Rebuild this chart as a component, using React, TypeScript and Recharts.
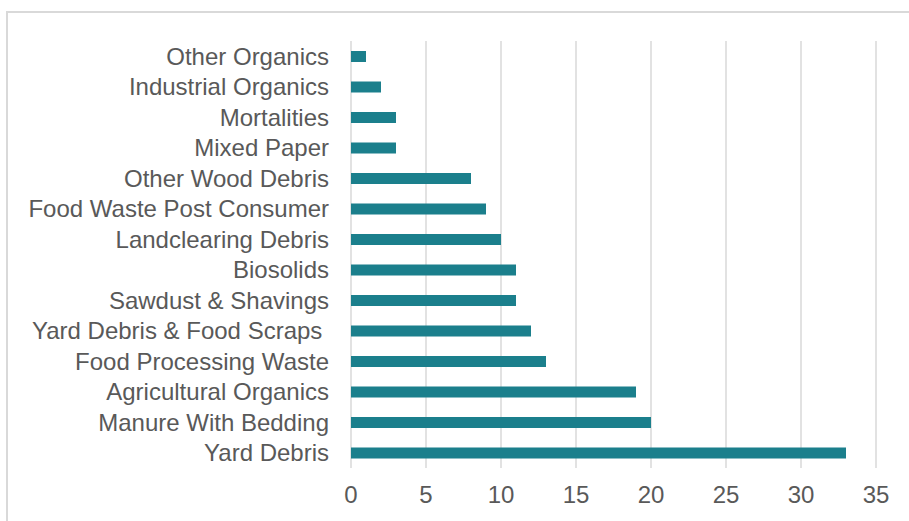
import React from 'react';
import { BarChart, Bar, XAxis, YAxis, CartesianGrid } from 'recharts';

// Categories listed top to bottom, as they appear in the chart
const categories = [
  'Other Organics',
  'Industrial Organics',
  'Mortalities',
  'Mixed Paper',
  'Other Wood Debris',
  'Food Waste Post Consumer',
  'Landclearing Debris',
  'Biosolids',
  'Sawdust & Shavings',
  'Yard Debris & Food Scraps\u00a0',
  'Food Processing Waste',
  'Agricultural Organics',
  'Manure With Bedding',
  'Yard Debris',
];

const counts = [1, 2, 3, 3, 8, 9, 10, 11, 11, 12, 13, 19, 20, 33];

const xTicks = [0, 5, 10, 15, 20, 25, 30, 35];

const data = categories.map((name, i) => ({ name, value: counts[i] }));

const TEXT = '#595959';
const GRID = '#d9d9d9';
const BAR = '#1b7f8c';
const FONT = 'Liberation Sans, Arial, sans-serif';

export default function App() {
  return (
    <div style={{ position: 'fixed', left: 0, top: 0, width: 909, height: 521, background: '#fff', overflow: 'hidden' }}>
      <div
        style={{
          position: 'absolute',
          left: 6,
          top: 11,
          width: 940,
          height: 560,
          border: `2px solid ${GRID}`,
          boxSizing: 'border-box',
        }}
      />
      <div style={{ position: 'absolute', left: 0, top: 0 }}>
        <BarChart
          width={909}
          height={521}
          data={data}
          layout="vertical"
          margin={{ top: 41, right: 33, bottom: 23, left: 11 }}
          barSize={11}
        >
          <CartesianGrid horizontal={false} stroke={GRID} strokeWidth={1.5} />
          <XAxis
            type="number"
            domain={[0, 35]}
            ticks={xTicks}
            height={30}
            axisLine={false}
            tickLine={false}
            tickMargin={12}
            tick={{ fill: TEXT, fontSize: 24, fontFamily: FONT }}
          />
          <YAxis
            type="category"
            dataKey="name"
            width={340}
            axisLine={false}
            tickLine={false}
            tickMargin={16}
            interval={0}
            tick={{ fill: TEXT, fontSize: 24, fontFamily: FONT }}
          />
          <Bar dataKey="value" fill={BAR} isAnimationActive={false} />
        </BarChart>
      </div>
    </div>
  );
}
